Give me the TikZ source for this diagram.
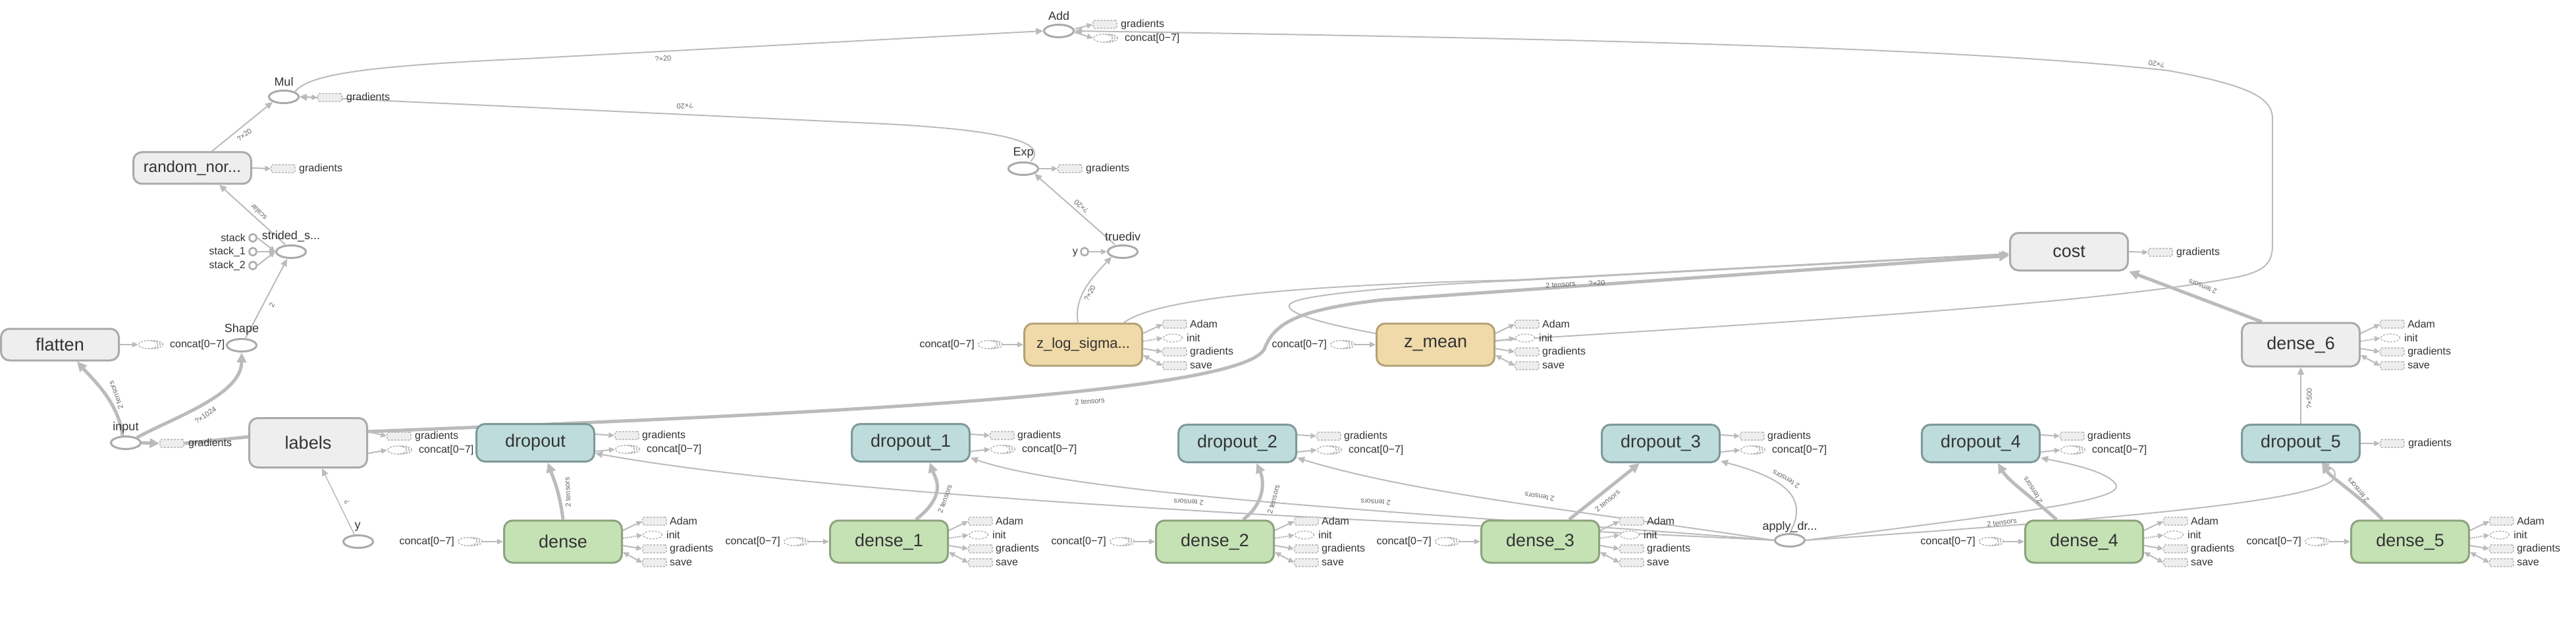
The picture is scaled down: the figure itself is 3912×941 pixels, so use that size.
\documentclass[tikz,border=0pt]{standalone}
\usepackage{fontspec}
\setmainfont{Liberation Sans}
\usetikzlibrary{arrows.meta,shapes.geometric,calc}
\pgfdeclarelayer{bg}
\pgfdeclarelayer{paper}
\pgfsetlayers{paper,bg,main}
\definecolor{edgec}{HTML}{BBBBBB}
\definecolor{strokec}{HTML}{AAAAAA}
\definecolor{txtc}{HTML}{333333}
\definecolor{grayfill}{HTML}{EEEEEE}
\definecolor{dropfill}{HTML}{BEDCDC}
\definecolor{dropline}{HTML}{7E9999}
\definecolor{densefill}{HTML}{C5E2B5}
\definecolor{denseline}{HTML}{8DA37E}
\definecolor{zfill}{HTML}{F0DAA9}
\definecolor{zline}{HTML}{B3A278}
\tikzset{
 bigbox/.style={rectangle, rounded corners=13pt, line width=3pt, minimum width=179pt, inner sep=0pt, text=txtc, font=\fontsize{27}{30}\selectfont},
 graybox/.style={bigbox, draw=strokec, fill=grayfill},
 dropbox/.style={bigbox, draw=dropline, fill=dropfill, minimum height=57pt},
 densebox/.style={bigbox, draw=denseline, fill=densefill, minimum height=64pt},
 zbox/.style={bigbox, draw=zline, fill=zfill, minimum height=64pt},
 op/.style={ellipse, draw=strokec, line width=3pt, fill=white, minimum width=45pt, minimum height=19pt, inner sep=0pt},
 cst/.style={ellipse, draw=strokec, line width=2.5pt, fill=white, minimum width=11pt, minimum height=12pt, inner sep=0pt},
 oplbl/.style={text=txtc, font=\fontsize{18}{20}\selectfont, inner sep=0pt},
 outlbl/.style={text=txtc, font=\fontsize{16}{18}\selectfont, anchor=west, inner sep=0pt},
 elbl/.style={text=black!60, font=\fontsize{11}{12}\selectfont, inner sep=0pt},
 sbox/.style={rectangle, rounded corners=2pt, draw=strokec, densely dashed, line width=1.2pt, fill=grayfill, minimum width=36pt, minimum height=12pt, inner sep=0pt},
 sov/.style={ellipse, draw=strokec, densely dashed, line width=1.2pt, fill=white, minimum width=29pt, minimum height=12pt, inner sep=0pt},
 lnsm/.style={draw=edgec, line width=2pt, -{Triangle[length=9pt,width=8pt]}},
 lnboth/.style={draw=edgec, line width=2pt, {Triangle[length=9pt,width=8pt]}-{Triangle[length=9pt,width=8pt]}},
 ln/.style={draw=edgec, line width=2pt, -{Triangle[length=11pt,width=10pt]}},
 lnthin/.style={draw=edgec, line width=1.5pt, -{Triangle[length=11pt,width=10pt]}},
 lnthick/.style={draw=edgec, line width=5pt, -{Triangle[length=15pt,width=14pt]}},
 lnplain/.style={draw=edgec, line width=5pt},
}
\newcommand\ovstack[3]{%
  \node[sov] (#1z) at ({#2+8},{#3}) {};
  \node[sov] (#1y) at ({#2+4},{#3}) {};
  \node[sov] (#1) at ({#2},{#3}) {};
}
\newcommand\vouts[3]{%
  \node[sbox] (#1adam) at ({#2+49},{#3-31}) {};
  \node[outlbl] (#1adamt) at ({#2+72},{#3-31}) {Adam};
  \node[sov] (#1init) at ({#2+46},{#3-10}) {};
  \node[outlbl] (#1initt) at ({#2+67},{#3-10}) {init};
  \node[sbox] (#1grad) at ({#2+49},{#3+11}) {};
  \node[outlbl] (#1gradt) at ({#2+72},{#3+11}) {gradients};
  \node[sbox] (#1save) at ({#2+49},{#3+32}) {};
  \node[outlbl] (#1savet) at ({#2+72},{#3+32}) {save};
  \draw[lnsm] ([yshift=17pt]#1.east) -- (#1adam.west);
  \draw[lnsm, densely dotted] ([yshift=5pt]#1.east) -- (#1init.west);
  \draw[lnsm] ([yshift=-6pt]#1.east) -- (#1grad.west);
  \draw[lnboth] ([yshift=-16pt]#1.east) -- (#1save.west);
}
\newcommand\douts[3]{%
  \node[sbox] (#1grad) at ({#2+49},{#3-11}) {};
  \node[outlbl] (#1gradt) at ({#2+72},{#3-11}) {gradients};
  \ovstack{#1con}{#2+46}{#3+10}
  \node[outlbl] (#1cont) at ({#2+79},{#3+10}) {concat[0−7]};
  \draw[lnsm] ([yshift=13pt]#1.east) -- (#1grad.west);
  \draw[lnsm] ([yshift=-13pt]#1.east) -- (#1con.west);
}
\newcommand\dins[3]{%
  \ovstack{#1in}{#2-55}{#3}
  \node[outlbl, anchor=east] (#1int) at ({#2-75},{#3}) {concat[0−7]};
  \draw[lnsm] (#1inz.east) -- (#1.west);
}
\begin{document}
\begin{tikzpicture}[x=1pt,y=-1pt]
\begin{pgfonlayer}{paper}
\fill[white] (0,0) rectangle (3912,941);
\end{pgfonlayer}
\useasboundingbox (0,0) rectangle (3912,941);

% ---------- big boxes ----------
\node[graybox, minimum height=48pt] (flatten) at (91,523) {flatten};
\node[graybox, minimum height=75pt] (labels) at (468,672) {labels};
\node[graybox, minimum height=48pt, font=\fontsize{24}{28}\selectfont] (random) at (292,255) {random\_nor...};
\node[graybox, minimum height=57pt] (cost) at (3142,382) {cost};
\node[graybox, minimum height=66pt] (dense6) at (3494,523) {dense\_6};

\node[dropbox] (drop0) at (813,672) {dropout};
\node[dropbox] (drop1) at (1383,672) {dropout\_1};
\node[dropbox] (drop2) at (1879,673) {dropout\_2};
\node[dropbox] (drop3) at (2522,673) {dropout\_3};
\node[dropbox] (drop4) at (3008,673) {dropout\_4};
\node[dropbox] (drop5) at (3494,673) {dropout\_5};

\node[densebox] (dense0) at (855,822) {dense};
\node[densebox] (dense1) at (1350,822) {dense\_1};
\node[densebox] (dense2) at (1845,822) {dense\_2};
\node[densebox] (dense3) at (2339,822) {dense\_3};
\node[densebox] (dense4) at (3165,822) {dense\_4};
\node[densebox] (dense5) at (3660,822) {dense\_5};

\node[zbox, font=\fontsize{22}{26}\selectfont] (zlog) at (1645,523) {z\_log\_sigma...};
\node[zbox] (zmean) at (2180,523) {z\_mean};

% ---------- ops ----------
\node[op] (mul) at (431,147) {};
\node[oplbl] (mulL) at (431,124) {Mul};
\node[op] (add) at (1608,47) {};
\node[oplbl] (addL) at (1608,24) {Add};
\node[op] (exp) at (1554,256) {};
\node[oplbl] (expL) at (1554,232) {Exp};
\node[op] (truediv) at (1705,382) {};
\node[oplbl] (truedivL) at (1705,359) {truediv};
\node[op] (strided) at (442,382) {};
\node[oplbl] (stridedL) at (442,359) {strided\_s...};
\node[op] (shape) at (367,524) {};
\node[oplbl] (shapeL) at (367,500) {Shape};
\node[op] (input) at (191,672) {};
\node[oplbl] (inputL) at (191,649) {input};
\node[op] (yop) at (544,822) {};
\node[oplbl] (yopL) at (543,800) {y};
\node[op] (apply) at (2718,820) {};
\node[oplbl] (applyL) at (2718,800) {apply\_dr...};

\node[cst] (stack0) at (384,361) {};
\node[outlbl, anchor=east] (stack0L) at (373,361) {stack};
\node[cst] (stack1) at (384,382) {};
\node[outlbl, anchor=east] (stack1L) at (373,382) {stack\_1};
\node[cst] (stack2) at (384,403) {};
\node[outlbl, anchor=east] (stack2L) at (373,403) {stack\_2};
\node[cst] (yc) at (1647,382) {};
\node[outlbl, anchor=east] (ycL) at (1637,384) {y};

% ---------- output groups ----------
\vouts{dense0}{945}{822}
\vouts{dense1}{1440}{822}
\vouts{dense2}{1935}{822}
\vouts{dense3}{2429}{822}
\vouts{dense4}{3255}{822}
\vouts{dense5}{3750}{822}
\vouts{zlog}{1735}{523}
\vouts{zmean}{2270}{523}
\vouts{dense6}{3584}{523}

\douts{drop0}{903}{672}
\douts{drop1}{1473}{672}
\douts{drop2}{1969}{673}
\douts{drop3}{2612}{673}
\douts{drop4}{3098}{673}
\node[sbox] (drop5grad) at (3633,673) {};
\node[outlbl] (drop5gradt) at (3657,673) {gradients};
\draw[lnsm] (drop5.east) -- (drop5grad.west);

\dins{dense0}{765}{822}
\dins{dense1}{1260}{822}
\dins{dense2}{1755}{822}
\dins{dense3}{2249}{822}
\dins{dense4}{3075}{822}
\dins{dense5}{3570}{822}
\dins{zlog}{1555}{523}
\dins{zmean}{2090}{523}

% small outputs of single ops
\node[sbox] (mulgrad) at (501,148) {};
\node[outlbl] (mulgradt) at (526,148) {gradients};
\draw[lnboth] (mul.east) -- (mulgrad.west);
\node[sbox] (rangrad) at (430,256) {};
\node[outlbl] (rangradt) at (454,256) {gradients};
\draw[lnsm] (random.east) -- (rangrad.west);
\node[sbox] (expgrad) at (1625,256) {};
\node[outlbl] (expgradt) at (1649,256) {gradients};
\draw[lnsm] (exp.east) -- (expgrad.west);
\node[sbox] (addgrad) at (1678,37) {};
\node[outlbl] (addgradt) at (1702,37) {gradients};
\ovstack{addcon}{1675}{58}
\node[outlbl] (addcont) at (1708,58) {concat[0−7]};
\draw[lnsm] ([yshift=3pt]add.east) -- (addgrad.west);
\draw[lnsm] ([yshift=-2pt]add.east) -- (addcon.west);
\node[sbox] (costgrad) at (3281,383) {};
\node[outlbl] (costgradt) at (3305,383) {gradients};
\draw[lnsm] (cost.east) -- (costgrad.west);
\ovstack{flatcon}{225}{523}
\node[outlbl] (flatcont) at (258,523) {concat[0−7]};
\draw[lnsm] (flatten.east) -- (flatcon.west);
\node[sbox] (ingrad) at (261,673) {};
\node[outlbl] (ingradt) at (286,673) {gradients};
\node[sbox] (labgrad) at (606,662) {};
\node[outlbl] (labgradt) at (630,662) {gradients};
\ovstack{labcon}{603}{683}
\node[outlbl] (labcont) at (636,683) {concat[0−7]};
\draw[lnsm] ([yshift=17pt]labels.east) -- (labgrad.west);
\draw[lnsm] ([yshift=-16pt]labels.east) -- (labcon.west);

% ---------- edges ----------
\begin{pgfonlayer}{bg}
\draw[lnthick] ([xshift=-5pt]input.north) .. controls (180,610) and (140,575) .. ([xshift=26pt]flatten.south);
\draw[lnthick] (input.north east) .. controls (260,635) and (367,600) .. (shape.south);
\draw[lnthick] (input.east) -- (ingrad.west);
\draw[lnplain] ([yshift=9pt]labels.west) -- (ingrad.east);
\draw[lnthick] ([yshift=17pt]labels.east) .. controls (1200,630) and (1880,600) .. (1920,530) .. controls (1935,490) and (1970,470) .. (2100,455) -- ([yshift=-6pt]cost.west);
\draw[ln] ([xshift=62pt]zlog.north) .. controls (1760,450) and (2000,432) .. (2300,425) -- ([yshift=-3pt]cost.west);
\draw[ln] ([yshift=17pt]zmean.west) .. controls (2000,490) and (1935,470) .. (1965,458) .. controls (2000,443) and (2200,430) .. (2300,426) -- ([yshift=-4pt]cost.west);
\draw[lnthick] ([xshift=-59pt]dense6.north) -- (cost.south east);
\draw[lnthin] (drop5.north) -- (dense6.south);
\draw[lnthick] ([xshift=-42pt]dense5.north) .. controls (3580,750) and (3540,725) .. ([xshift=32pt]drop5.south);
\draw[lnthick] ([xshift=-42pt]dense4.north) .. controls (3080,750) and (3050,730) .. ([xshift=26pt]drop4.south);
\draw[lnthick] ([xshift=44pt]dense3.north) -- ([xshift=-32pt]drop3.south);
\draw[lnthick] ([xshift=43pt]dense2.north) .. controls (1925,760) and (1918,725) .. ([xshift=29pt]drop2.south);
\draw[lnthick] ([xshift=41pt]dense1.north) .. controls (1440,750) and (1420,725) .. ([xshift=29pt]drop1.south);
\draw[lnthick] (dense0.north) .. controls (850,745) and (838,720) .. ([xshift=19pt]drop0.south);

\draw[ln] (apply.west) .. controls (2200,795) and (1300,760) .. ([yshift=-16pt]drop0.east);
\draw[ln] (apply.west) .. controls (2200,780) and (1650,755) .. ([yshift=-23pt]drop1.east);
\draw[ln] (apply.west) .. controls (2400,775) and (2150,750) .. ([yshift=-22pt]drop2.east);
\draw[ln] (apply.north) .. controls (2745,760) and (2720,728) .. ([yshift=-27pt]drop3.east);
\draw[ln] (apply.east) .. controls (3050,780) and (3230,760) .. (3213,735) .. controls (3200,715) and (3140,703) .. ([yshift=-22pt]drop4.east);
\draw[ln] (apply.east) .. controls (3100,795) and (3530,765) .. (3545,725) .. controls (3550,712) and (3535,708) .. ([xshift=32pt]drop5.south);

\draw[ln] ([xshift=30pt]random.north) -- (mul.south west);
\draw[ln] ([xshift=-9pt]strided.north) -- ([xshift=41pt]random.south);
\draw[lnsm] (stack0.east) -- (strided.west);
\draw[lnsm] (stack1.east) -- (strided.west);
\draw[lnsm] (stack2.east) -- (strided.west);
\draw[ln] ([xshift=6pt]shape.north) -- ([xshift=-6pt]strided.south);
\draw[ln] (mul.north east) .. controls (470,112) and (560,100) .. (800,89) -- (add.west);
\draw[ln] ([xshift=11pt]exp.north) .. controls (1595,215) and (1520,195) .. (1300,186) .. controls (1000,172) and (700,158) .. (mul.east);
\draw[ln] ([xshift=-12pt]truediv.north) -- (exp.south east);
\draw[lnsm] (yc.east) -- (truediv.west);
\draw[ln] ([xshift=-8pt]zlog.north) .. controls (1630,450) and (1660,420) .. (truediv.south west);
\draw[ln] ([yshift=6pt]zmean.east) .. controls (2700,490) and (3200,460) .. (3400,420) .. controls (3445,410) and (3451,395) .. (3451,370) -- (3451,180) .. controls (3451,150) and (3420,130) .. (3292,107) .. controls (3000,75) and (2500,60) .. (add.east);
\draw[lnthin] ([xshift=-6pt]yop.north) -- ([xshift=21pt]labels.south);
\end{pgfonlayer}

% ---------- edge labels ----------
\node[elbl, rotate=110] (l1) at (176,600) {2 tensors};
\node[elbl, rotate=35] (l2) at (312,630) {?×1024};
\node[elbl, rotate=114] (l3) at (527,762) {?};
\node[elbl, rotate=62] (l4) at (413,463) {2};
\node[elbl, rotate=137] (l5) at (393,322) {scalar};
\node[elbl, rotate=38] (l6) at (371,205) {?×20};
\node[elbl, rotate=3] (l7) at (1007,89) {?×20};
\node[elbl, rotate=182] (l8) at (1040,161) {?×20};
\node[elbl, rotate=139] (l9) at (1642,313) {?×20};
\node[elbl, rotate=62] (l10) at (1655,445) {?×20};
\node[elbl, rotate=170] (l11) at (3275,97) {?×20};
\node[elbl, rotate=4] (l12) at (1655,609) {2 tensors};
\node[elbl, rotate=4] (l13) at (2370,432) {2 tensors};
\node[elbl, rotate=4] (l14) at (2425,430) {?×20};
\node[elbl, rotate=158] (l15) at (3345,435) {2 tensors};
\node[elbl, rotate=90] (l16) at (3507,605) {?×500};
\node[elbl, rotate=93] (l17) at (862,747) {2 tensors};
\node[elbl, rotate=70] (l18) at (1435,757) {2 tensors};
\node[elbl, rotate=75] (l19) at (1934,758) {2 tensors};
\node[elbl, rotate=40] (l20) at (2441,760) {2 tensors};
\node[elbl, rotate=122] (l21) at (3087,744) {2 tensors};
\node[elbl, rotate=130] (l22) at (3581,744) {2 tensors};
\node[elbl, rotate=177] (l23) at (1805,762) {2 tensors};
\node[elbl, rotate=177] (l24) at (2089,762) {2 tensors};
\node[elbl, rotate=171] (l25) at (2338,754) {2 tensors};
\node[elbl, rotate=150] (l26) at (2712,727) {2 tensors};
\node[elbl, rotate=8] (l27) at (3040,793) {2 tensors};
\end{tikzpicture}
\end{document}
